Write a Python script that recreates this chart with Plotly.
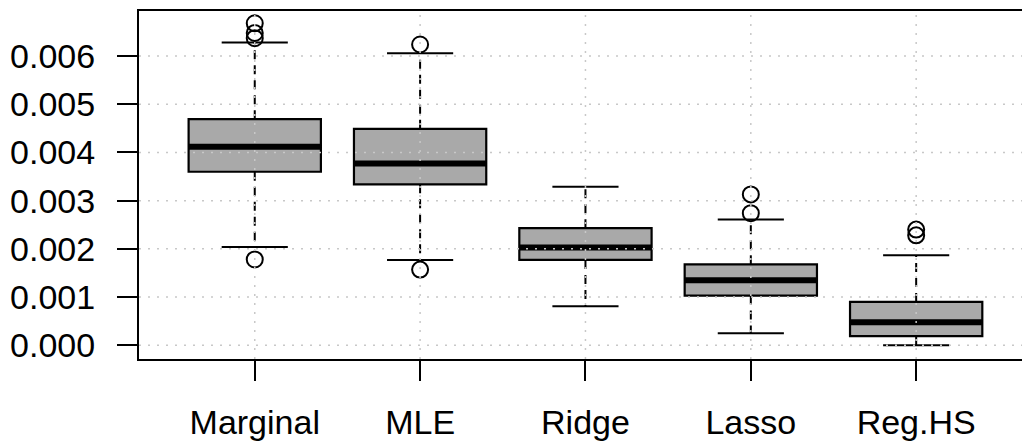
import plotly.graph_objects as go

# Per-method summary statistics of the estimation error
categories = ["Marginal", "MLE", "Ridge", "Lasso", "Reg.HS"]
lower_whisker = [0.00204, 0.00177, 0.00081, 0.00025, 0.00000]
q1 = [0.00360, 0.00334, 0.00177, 0.00103, 0.00019]
median = [0.00412, 0.00377, 0.00203, 0.00135, 0.00048]
q3 = [0.00469, 0.00449, 0.00243, 0.00168, 0.00090]
upper_whisker = [0.00628, 0.00606, 0.00329, 0.00261, 0.00187]

# Outlying observations: category index and value
outlier_group = [0, 0, 0, 0, 1, 1, 3, 3, 4, 4]
outlier_value = [0.00178, 0.00637, 0.00648, 0.00668,
                 0.00157, 0.00624,
                 0.00274, 0.00313,
                 0.00228, 0.00240]

y_ticks = [0.000, 0.001, 0.002, 0.003, 0.004, 0.005, 0.006]

pos = list(range(1, len(categories) + 1))
BOX_HALF = 0.4
STAPLE_HALF = 0.2
FONT = "Liberation Sans, Arial, Helvetica, sans-serif"

fig = go.Figure()

# Dashed whiskers from the box edges to the staples
wx, wy = [], []
for p, lo, a, b, hi in zip(pos, lower_whisker, q1, q3, upper_whisker):
    wx += [p, p, None, p, p, None]
    wy += [b, hi, None, a, lo, None]
fig.add_trace(go.Scatter(x=wx, y=wy, mode="lines", hoverinfo="skip",
                         line=dict(color="black", width=2, dash="9px,6px"),
                         showlegend=False))

# Staples
sx, sy = [], []
for p, lo, hi in zip(pos, lower_whisker, upper_whisker):
    sx += [p - STAPLE_HALF, p + STAPLE_HALF, None, p - STAPLE_HALF, p + STAPLE_HALF, None]
    sy += [hi, hi, None, lo, lo, None]
fig.add_trace(go.Scatter(x=sx, y=sy, mode="lines", hoverinfo="skip",
                         line=dict(color="black", width=2), showlegend=False))

# Boxes (interquartile range)
fig.add_trace(go.Box(x=pos, q1=q1, median=median, q3=q3,
                     lowerfence=q1, upperfence=q3,
                     width=2 * BOX_HALF, whiskerwidth=0,
                     fillcolor="#A9A9A9",
                     line=dict(color="black", width=2.2),
                     boxpoints=False, showlegend=False))

# Thick median bars
mx, my = [], []
for p, m in zip(pos, median):
    mx += [p - BOX_HALF, p + BOX_HALF, None]
    my += [m, m, None]
fig.add_trace(go.Scatter(x=mx, y=my, mode="lines", hoverinfo="skip",
                         line=dict(color="black", width=6), showlegend=False))

# Outliers
fig.add_trace(go.Scatter(x=[pos[g] for g in outlier_group], y=outlier_value,
                         mode="markers", showlegend=False,
                         marker=dict(symbol="circle-open", size=16, color="black",
                                     line=dict(width=2, color="black"))))

# Dotted reference grid drawn over the boxes
grid_style = dict(color="#C8C8C8", width=1.5, dash="2px,7px")
shapes = []
for t in y_ticks:
    shapes.append(dict(type="line", xref="x domain", yref="y", x0=0, x1=1, y0=t, y1=t,
                       line=grid_style, layer="above"))
for p in pos:
    shapes.append(dict(type="line", xref="x", yref="y domain", x0=p, x1=p, y0=0, y1=1,
                       line=grid_style, layer="above"))

fig.update_layout(
    width=1022, height=441,
    margin=dict(l=139, r=0, t=11, b=82),
    paper_bgcolor="white", plot_bgcolor="white",
    font=dict(family=FONT, size=34, color="black"),
    shapes=shapes,
    xaxis=dict(range=[0.3, 5.64], tickvals=pos, ticktext=categories,
               showgrid=False, zeroline=False,
               showline=True, linecolor="black", linewidth=2, mirror=True,
               ticks="outside", ticklen=20, tickwidth=2, tickcolor="black",
               ticklabelstandoff=12),
    yaxis=dict(range=[-0.000285, 0.006935], tickvals=y_ticks, tickformat=".3f",
               showgrid=False, zeroline=False,
               showline=True, linecolor="black", linewidth=2, mirror=False,
               ticks="outside", ticklen=20, tickwidth=2, tickcolor="black",
               ticklabelstandoff=15),
)

fig.write_html("out.html")
